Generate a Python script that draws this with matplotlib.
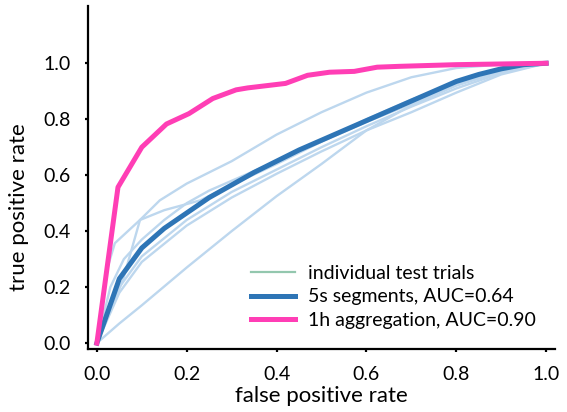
import matplotlib
matplotlib.use("Agg")
import matplotlib.pyplot as plt
from matplotlib.lines import Line2D

plt.rcParams['font.family'] = ['Lato', 'DejaVu Sans']

# ROC curves: mean over 5s segments, 1h aggregation and individual test trials
fpr_mean = [0.0, 0.05, 0.1, 0.15, 0.2, 0.25, 0.3, 0.35, 0.4, 0.45, 0.5, 0.55,
            0.6, 0.65, 0.7, 0.75, 0.8, 0.85, 0.9, 0.95, 1.0]
tpr_mean = [0.0, 0.23, 0.34, 0.41, 0.465, 0.52, 0.565, 0.61, 0.65, 0.69, 0.725,
            0.76, 0.795, 0.83, 0.865, 0.9, 0.935, 0.96, 0.98, 0.995, 1.0]

fpr_agg = [0.0, 0.047, 0.1, 0.155, 0.205, 0.258, 0.31, 0.336, 0.42, 0.469,
           0.518, 0.573, 0.624, 0.673, 0.8, 1.0]
tpr_agg = [0.0, 0.557, 0.70, 0.783, 0.82, 0.874, 0.905, 0.912, 0.928, 0.957,
           0.968, 0.971, 0.986, 0.989, 0.995, 1.0]

trials = [
    ([0.0, 0.02, 0.04, 0.096, 0.14, 0.2, 0.3, 0.4, 0.5, 0.6, 0.7, 0.8, 0.9, 1.0],
     [0.0, 0.25, 0.357, 0.44, 0.51, 0.57, 0.65, 0.745, 0.825, 0.895, 0.95, 0.983, 0.996, 1.0]),
    ([0.0, 0.03, 0.06, 0.1, 0.15, 0.2, 0.25, 0.3, 0.4, 0.5, 0.6, 0.7, 0.8, 0.9, 1.0],
     [0.0, 0.2, 0.3, 0.37, 0.44, 0.5, 0.545, 0.58, 0.65, 0.72, 0.80, 0.87, 0.93, 0.975, 1.0]),
    ([0.0, 0.058, 0.096, 0.15, 0.23, 0.3, 0.4, 0.5, 0.6, 0.7, 0.8, 0.9, 1.0],
     [0.0, 0.225, 0.44, 0.475, 0.51, 0.565, 0.64, 0.72, 0.79, 0.855, 0.925, 0.975, 1.0]),
    ([0.0, 0.05, 0.1, 0.2, 0.3, 0.4, 0.5, 0.6, 0.7, 0.8, 0.9, 1.0],
     [0.0, 0.2, 0.31, 0.44, 0.54, 0.62, 0.70, 0.775, 0.845, 0.91, 0.965, 1.0]),
    ([0.0, 0.05, 0.1, 0.2, 0.3, 0.4, 0.5, 0.6, 0.7, 0.8, 0.9, 1.0],
     [0.0, 0.18, 0.29, 0.42, 0.52, 0.605, 0.685, 0.76, 0.825, 0.895, 0.96, 1.0]),
    ([0.0, 0.05, 0.1, 0.2, 0.3, 0.4, 0.5, 0.6, 0.7, 0.8, 0.9, 1.0],
     [0.0, 0.07, 0.135, 0.27, 0.40, 0.525, 0.64, 0.76, 0.85, 0.92, 0.97, 1.0]),
]

labels = ['individual test trials', '5s segments, AUC=0.64', '1h aggregation, AUC=0.90']
col_trial = '#bdd7ee'
col_trial_lgd = '#93c7ae'
col_mean = '#2e75b6'
col_agg = '#ff3eb5'

fig = plt.figure(figsize=(5.67, 4.12), dpi=100)
ax = fig.add_axes([0.155, 0.153, 0.824, 0.832])

for fpr, tpr in trials:
    ax.plot(fpr, tpr, color=col_trial, lw=1.7, solid_capstyle='round', zorder=2)
ax.plot(fpr_mean, tpr_mean, color=col_mean, lw=3.6, zorder=3)
ax.plot(fpr_agg, tpr_agg, color=col_agg, lw=3.6, zorder=4)

ax.set_xlim(-0.02, 1.02)
ax.set_ylim(-0.021, 1.204)
ax.set_xticks([0.0, 0.2, 0.4, 0.6, 0.8, 1.0])
ax.set_yticks([0.0, 0.2, 0.4, 0.6, 0.8, 1.0])
ax.set_xticklabels(['0.0', '0.2', '0.4', '0.6', '0.8', '1.0'])
ax.set_yticklabels(['0.0', '0.2', '0.4', '0.6', '0.8', '1.0'])

for side in ['top', 'right']:
    ax.spines[side].set_visible(False)
for side in ['left', 'bottom']:
    ax.spines[side].set_linewidth(1.6)
ax.tick_params(axis='both', length=2.5, width=1.6, labelsize=14)
ax.tick_params(axis='x', pad=10)
ax.tick_params(axis='y', pad=10)

ax.set_xlabel('false positive rate', fontsize=16, labelpad=0)
ax.set_ylabel('true positive rate', fontsize=16)
ax.yaxis.set_label_coords(-0.125, 0.414)
ax.xaxis.set_label_coords(0.5, -0.108)

handles = [Line2D([], [], color=col_trial_lgd, lw=1.6),
           Line2D([], [], color=col_mean, lw=3.6),
           Line2D([], [], color=col_agg, lw=3.6)]
ax.legend(handles, labels, loc='upper left', bbox_to_anchor=(0.349, 0.246),
          frameon=False, fontsize=14, handlelength=2.27, handletextpad=0.67,
          labelspacing=0.35, borderpad=0, borderaxespad=0)

fig.savefig('out.png', dpi=100)
